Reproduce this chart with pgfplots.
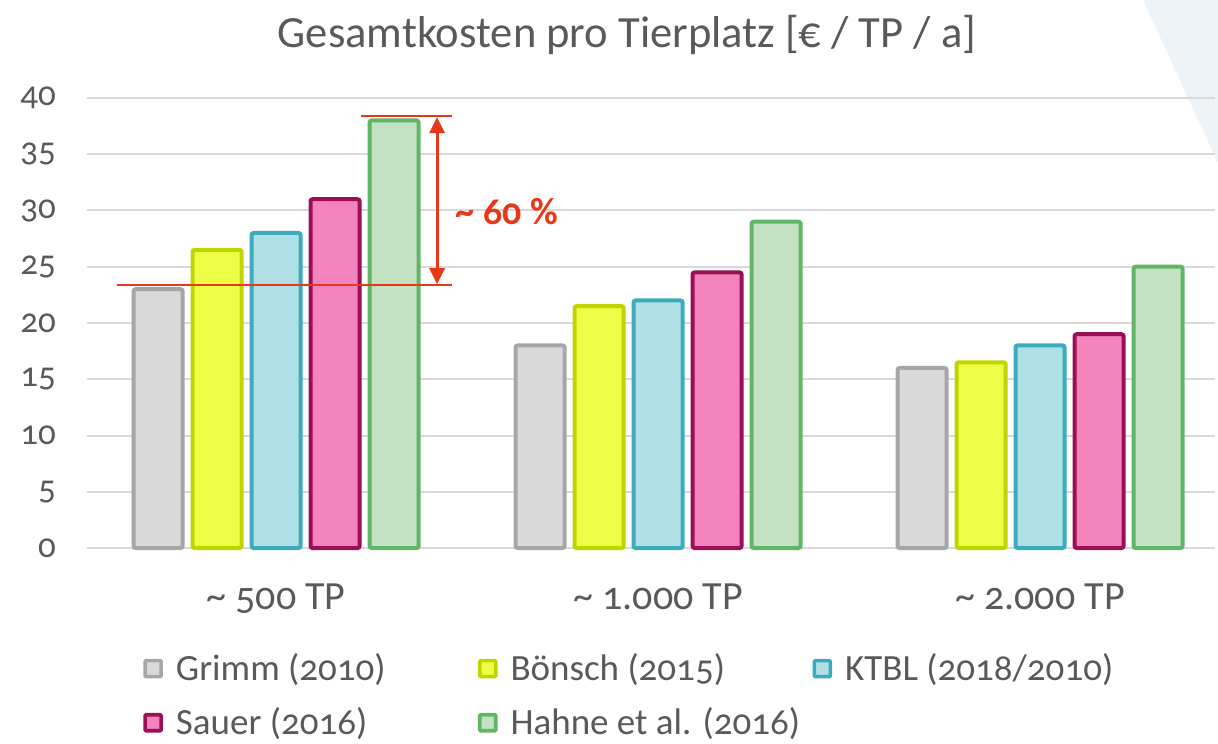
\documentclass[border=0pt]{standalone}
\usepackage{pgfplots}
\pgfplotsset{compat=1.18}
\usepackage{fontspec}
\setmainfont{Carlito}[Numbers=OldStyle]
\usetikzlibrary{arrows.meta}
\definecolor{txt}{HTML}{595959}
\definecolor{grid}{HTML}{D9D9D9}
\definecolor{bgtri}{HTML}{EEF3F7}
\definecolor{annot}{HTML}{E8381A}
\definecolor{grimmF}{HTML}{D9D9D9}\definecolor{grimmD}{HTML}{A6A6A6}
\definecolor{boeF}{HTML}{EAFF45}\definecolor{boeD}{HTML}{C2D400}
\definecolor{ktblF}{HTML}{B0E0E6}\definecolor{ktblD}{HTML}{3BABBE}
\definecolor{sauF}{HTML}{F283BC}\definecolor{sauD}{HTML}{9A0F55}
\definecolor{hahF}{HTML}{C3E1C3}\definecolor{hahD}{HTML}{61B665}
\pgfplotsset{
  mybar/.style n args={3}{ybar, bar width=24.5pt, bar shift=#1, fill=#2, draw=#3, line width=2pt, rounded corners=1pt,
    legend image code/.code={\draw[fill=#2, draw=#3, line width=1.8pt, rounded corners=0.5pt] (0pt,-4pt) rectangle (8pt,4pt);}},
}
\begin{document}
\begin{tikzpicture}
\useasboundingbox (-43.5pt,-97.5pt) rectangle (565.5pt,274pt);
\fill[bgtri] (528pt,274pt) -- (565.5pt,274pt) -- (565.5pt,192.5pt) -- cycle;
\node[text=txt, font=\fontsize{22.3}{26}\selectfont] at (270pt,256.5pt) {Gesamtkosten pro Tierplatz [€ / TP / a]};
\begin{axis}[
  scale only axis, width=564pt, height=225pt,
  xmin=-0.495, xmax=2.458, ymin=0, ymax=40,
  axis line style={draw=none},
  tick style={draw=none},
  ymajorgrids, major grid style={color=grid, line width=1pt},
  ytick={0,5,...,40},
  xtick={0,1,2},
  xticklabels={\textasciitilde{} 500 TP, \textasciitilde{} 1.000 TP, \textasciitilde{} 2.000 TP},
  /pgf/number format/assume math mode=true,
  yticklabel style={text=txt, font=\fontsize{17.5}{20}\selectfont, xshift=-12pt},
  xticklabel style={text=txt, font=\fontsize{20}{24}\selectfont, yshift=-14.5pt},
  clip=false,
  legend columns=3,
  legend style={draw=none, fill=none, at={(0.0496,-0.225)}, anchor=north west, inner sep=0pt,
    font=\fontsize{18.5}{22}\selectfont, text=txt, row sep=8pt,
    /tikz/every odd column/.append style={column sep=4.5pt}},
  legend cell align=left,
]
\addplot[mybar={-59pt}{grimmF}{grimmD}] coordinates {(0,23) (1,18) (2,16)};
\addlegendentry{\makebox[149pt][l]{Grimm (2010)}}
\addplot[mybar={-29.5pt}{boeF}{boeD}] coordinates {(0,26.5) (1,21.5) (2,16.5)};
\addlegendentry{\makebox[149pt][l]{Bönsch (2015)}}
\addplot[mybar={0pt}{ktblF}{ktblD}] coordinates {(0,28) (1,22) (2,18)};
\addlegendentry{KTBL (2018/2010)}
\addplot[mybar={29.5pt}{sauF}{sauD}] coordinates {(0,31) (1,24.5) (2,19)};
\addlegendentry{\makebox[149pt][l]{Sauer (2016)}}
\addplot[mybar={59pt}{hahF}{hahD}] coordinates {(0,38) (1,29) (2,25)};
\addlegendentry{\makebox[149pt][l]{Hahne et al. (2016)}}
\draw[annot, line width=1pt] (axis cs:0.2225,38.4) -- (axis cs:0.4607,38.4);
\draw[annot, line width=1pt] (axis cs:-0.416,23.38) -- (axis cs:0.4607,23.38);
\draw[annot, line width=1.5pt, {Triangle[width=7.5pt,length=8pt]}-{Triangle[width=7.5pt,length=8pt]}] (axis cs:0.4215,38.3) -- (axis cs:0.4215,23.45);
\node[text=annot, anchor=west, inner sep=0pt, font=\bfseries\fontsize{19}{22}\selectfont] at (axis cs:0.469,29.9) {\textasciitilde{} 60 \%};
\end{axis}
\end{tikzpicture}
\end{document}
